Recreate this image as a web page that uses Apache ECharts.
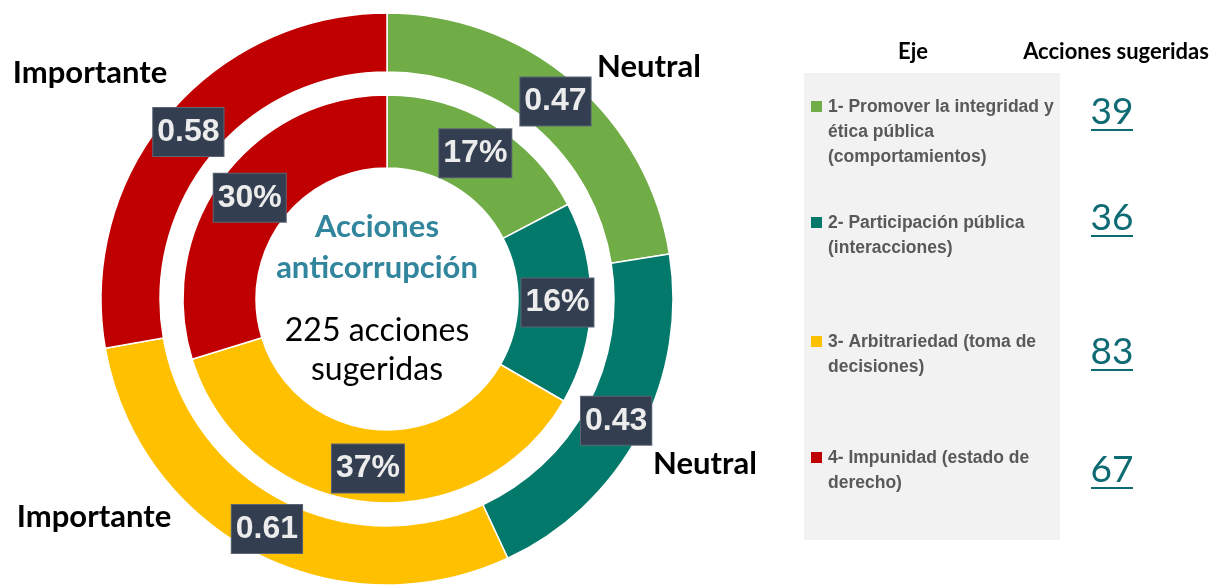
<!DOCTYPE html>
<html>
<head>
<meta charset="utf-8">
<script src="https://cdn.jsdelivr.net/npm/echarts@6/dist/echarts.min.js"></script>
<style>
html,body{margin:0;padding:0;background:#fff;}
#chart{width:1219px;height:585px;}
</style>
</head>
<body>
<div id="chart"></div>
<script>
// ---- data ----
var ejes = ['1- Promover la integridad y\nética pública\n(comportamientos)', '2- Participación pública\n(interacciones)', '3- Arbitrariedad (toma de\ndecisiones)', '4- Impunidad (estado de\nderecho)'];
var acciones = [39, 36, 83, 67];
var indice = [0.47, 0.43, 0.61, 0.58];
var nivel = ['Neutral', 'Neutral', 'Importante', 'Importante'];
var totalAcciones = 225;
var colors = ['#70ad47', '#02796b', '#ffc000', '#c00000'];

// ---- layout ----
var C = [387, 299];
var labelPos = [[649, 67], [705, 464], [94, 517], [90, 73]];
var legendY = [107, 223, 342, 458];
var numberY = [112, 218, 352, 470];

var chart = echarts.init(document.getElementById('chart'));

var boxLabel = {
  show: true,
  position: 'inside',
  backgroundColor: '#333f50',
  borderColor: '#5b6576',
  borderWidth: 1,
  color: '#ececec',
  fontFamily: '"Liberation Sans", Arial, sans-serif',
  fontWeight: 'bold',
  fontSize: 32,
  lineHeight: 37,
  padding: [6, 4, 5, 4]
};

var graphics = [];
// legend panel
graphics.push({type: 'rect', shape: {x: 804, y: 73, width: 256, height: 467}, style: {fill: '#f2f2f2'}, silent: true});
graphics.push({type: 'text', style: {x: 913, y: 52, text: 'Eje', font: 'bold 22px Lato, "Open Sans", sans-serif', fill: '#000', align: 'center', verticalAlign: 'middle'}});
graphics.push({type: 'text', style: {x: 1116, y: 52, text: 'Acciones sugeridas', font: 'bold 22px Lato, "Open Sans", sans-serif', fill: '#000', align: 'center', verticalAlign: 'middle'}});
ejes.forEach(function (name, i) {
  graphics.push({type: 'rect', shape: {x: 811, y: legendY[i] - 6, width: 11, height: 11}, style: {fill: colors[i]}});
  graphics.push({type: 'text', style: {x: 828, y: legendY[i] - 12, text: name, font: 'bold 17.5px "Liberation Sans", Arial, sans-serif', lineHeight: 25, fill: '#595959', align: 'left', verticalAlign: 'top'}});
  graphics.push({type: 'text', style: {x: 1112, y: numberY[i], text: String(acciones[i]), font: '37px Lato, "Open Sans", sans-serif', fill: '#0e6a73', align: 'center', verticalAlign: 'middle'}});
  graphics.push({type: 'rect', shape: {x: 1091, y: numberY[i] + 17, width: 42, height: 2}, style: {fill: '#0e6a73'}});
  graphics.push({type: 'text', style: {x: labelPos[i][0], y: labelPos[i][1], text: nivel[i], font: 'bold 31px Lato, "Open Sans", sans-serif', fill: '#000', align: 'center', verticalAlign: 'middle'}});
});
// center texts
graphics.push({type: 'text', style: {x: 377, y: 247, text: 'Acciones\nanticorrupción', font: 'bold 31px Lato, "Open Sans", sans-serif', lineHeight: 41, fill: '#31859c', align: 'center', verticalAlign: 'middle'}});
graphics.push({type: 'text', style: {x: 377, y: 350, text: totalAcciones + ' acciones\nsugeridas', font: '32px Lato, "Open Sans", sans-serif', lineHeight: 39, fill: '#000', align: 'center', verticalAlign: 'middle'}});

chart.setOption({
  animation: false,
  color: colors,
  series: [
    {
      type: 'pie',
      center: C,
      radius: [227, 286],
      startAngle: 90,
      clockwise: true,
      silent: true,
      itemStyle: {borderColor: '#fff', borderWidth: 1.5},
      label: Object.assign({}, boxLabel, {formatter: function (p) { return p.value.toFixed(2); }}),
      labelLine: {show: false},
      data: indice.map(function (v, i) { return {name: nivel[i] + i, value: v}; })
    },
    {
      type: 'pie',
      center: C,
      radius: [131, 204],
      startAngle: 90,
      clockwise: true,
      silent: true,
      itemStyle: {borderColor: '#fff', borderWidth: 1.5},
      label: Object.assign({}, boxLabel, {formatter: function (p) { return Math.round(p.value / totalAcciones * 100) + '%'; }}),
      labelLine: {show: false},
      data: acciones.map(function (v, i) { return {name: ejes[i], value: v}; })
    }
  ],
  graphic: graphics
});
</script>
</body>
</html>
